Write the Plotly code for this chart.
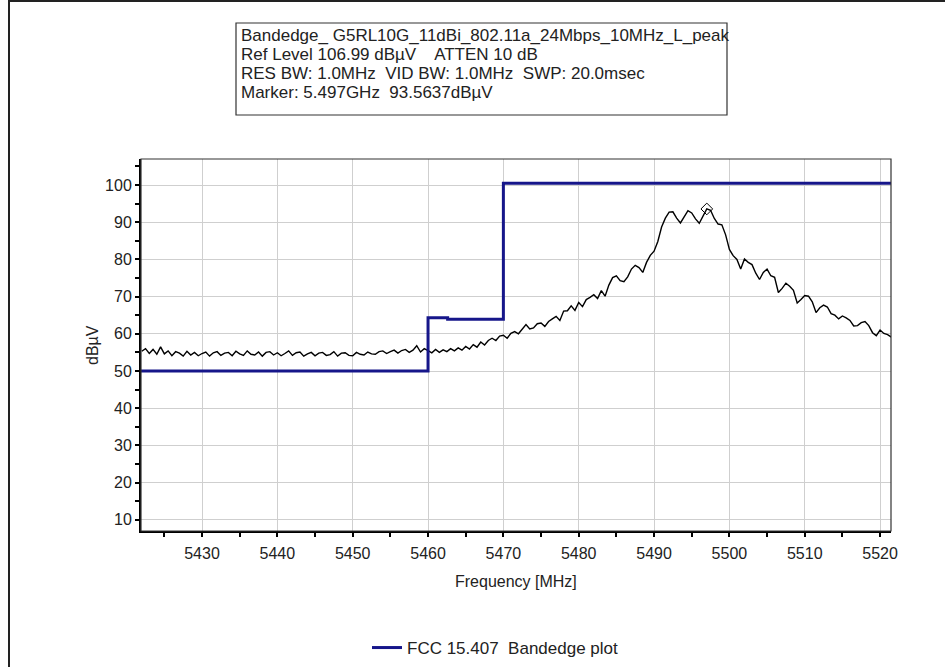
import numpy as np
import plotly.graph_objects as go

# ---- data ----
freq_start = 5422.0
freq_step = 0.5
trace_dbuv = [
    55.3, 56.0, 54.7, 55.8, 54.5, 56.5, 54.6, 55.4, 54.1, 55.2,
    54.8, 54.0, 55.3, 54.3, 55.0, 54.1, 54.7, 55.1, 54.0, 54.9,
    55.2, 54.2, 54.8, 55.0, 54.1, 55.3, 54.6, 54.2, 55.4, 54.5,
    54.3, 55.1, 54.0, 55.0, 55.2, 54.3, 54.9, 54.1, 54.7, 55.4,
    54.2, 54.9, 55.1, 54.0, 54.6, 55.0, 54.1, 54.8, 55.0, 54.2,
    54.4, 55.2, 54.0, 54.8, 54.9, 54.2, 54.1, 55.0, 54.5, 54.3,
    55.1, 54.6, 54.5, 55.2, 55.4, 54.7, 55.2, 55.6, 54.8, 55.5,
    55.8, 55.0, 55.6, 56.8, 55.1, 56.0, 55.5, 54.9, 55.8, 55.0,
    55.7, 55.2, 56.0, 55.4, 56.2, 55.6, 56.6, 55.9, 57.1, 56.4,
    57.8, 57.0, 58.2, 58.8, 58.2, 59.4, 59.6, 58.8, 60.1, 60.6,
    60.0, 61.3, 62.5, 61.3, 61.6, 62.7, 62.9, 62.0, 63.3, 64.0,
    64.7, 63.6, 66.1, 66.2, 67.5, 66.3, 68.4, 67.3, 69.2, 69.8,
    70.5, 69.5, 71.6, 70.1, 73.1, 75.1, 75.6, 74.3, 74.0, 75.3,
    77.4, 78.4, 77.8, 76.5, 79.2, 81.1, 82.2, 84.8, 88.7, 91.1,
    92.7, 92.8, 91.1, 89.8, 91.6, 93.1, 92.5, 90.9, 89.7, 91.7,
    93.56, 93.2, 91.0, 89.5, 89.3, 86.6, 82.7, 81.0, 80.0, 77.4,
    80.1, 79.2, 78.6, 76.3, 74.6, 76.5, 77.4, 75.6, 75.2, 71.1,
    72.2, 73.6, 72.8, 71.7, 68.3, 69.2, 70.3, 70.1, 68.6, 65.7,
    67.0, 67.7, 67.2, 65.4, 65.0, 64.0, 64.8, 64.3, 63.6, 62.1,
    62.2, 63.0, 63.3, 62.2, 60.3, 59.5, 61.0, 60.1, 59.8, 59.1,
]
trace_freq = [freq_start + i * freq_step for i in range(len(trace_dbuv))]

limit_freq = [5421.9, 5460.0, 5460.0, 5462.6, 5462.6, 5470.0, 5470.0, 5521.45]
limit_dbuv = [50.0, 50.0, 64.3, 64.3, 63.9, 63.9, 100.5, 100.5]

marker_freq = [5497.0]
marker_dbuv = [93.5637]

info_lines = [
    "Bandedge_ G5RL10G_11dBi_802.11a_24Mbps_10MHz_L_peak",
    "Ref Level 106.99 dB\u00b5V    ATTEN 10 dB",
    "RES BW: 1.0MHz  VID BW: 1.0MHz  SWP: 20.0msec",
    "Marker: 5.497GHz  93.5637dB\u00b5V",
]
x_range = [5421.9, 5521.45]
y_range = [6.99, 106.99]
x_ticks = [5430, 5440, 5450, 5460, 5470, 5480, 5490, 5500, 5510, 5520]
y_ticks = [10, 20, 30, 40, 50, 60, 70, 80, 90, 100]

FONT = "Liberation Sans, Arial, sans-serif"
W, H = 945, 667
L, R, T, B = 141, 891, 159, 531

def px(x):
    return (x - L) / (R - L)

def py(y):
    return (B - y) / (B - T)

fig = go.Figure()
fig.add_trace(go.Scatter(x=trace_freq, y=trace_dbuv, mode="lines",
                         line=dict(color="black", width=1.4), showlegend=False,
                         hoverinfo="skip"))
fig.add_trace(go.Scatter(x=limit_freq, y=limit_dbuv, mode="lines",
                         line=dict(color="#16168a", width=3),
                         name="FCC 15.407  Bandedge plot"))
fig.add_trace(go.Scatter(x=marker_freq, y=marker_dbuv, mode="markers",
                         marker=dict(symbol="diamond-open", size=9, color="black",
                                     line=dict(width=1)),
                         showlegend=False))

axis_common = dict(showgrid=True, gridcolor="#cfcfcf", gridwidth=1,
                   zeroline=False, showline=True, linecolor="black", linewidth=2,
                   ticks="outside", ticklen=4, tickwidth=1.5, tickcolor="black",
                   tickfont=dict(family=FONT, size=16, color="#222"))

fig.update_layout(
    width=W, height=H,
    margin=dict(l=L, r=W - R, t=T, b=H - B, pad=0, autoexpand=False),
    paper_bgcolor="white", plot_bgcolor="white",
    xaxis=dict(range=x_range, tickvals=x_ticks, **axis_common,
               ticklabelstandoff=3,
               minor=dict(dtick=5, tick0=5420, ticks="outside", ticklen=4,
                          tickwidth=1.5, tickcolor="black", showgrid=False),
               mirror=False),
    yaxis=dict(range=y_range, tickvals=y_ticks, **axis_common,
               minor=dict(dtick=5, tick0=5, ticks="outside", ticklen=4,
                          tickwidth=1.5, tickcolor="black", showgrid=False),
               mirror=False),
    showlegend=True,
    legend=dict(orientation="h", x=px(367), y=py(648), xanchor="left", yanchor="middle",
                font=dict(family=FONT, size=17, color="#222"),
                bgcolor="rgba(0,0,0,0)"),
)

shapes = [
    dict(type="rect", xref="paper", yref="paper", x0=0, x1=1, y0=0, y1=1,
         line=dict(color="#333", width=1.2)),
    dict(type="rect", xref="paper", yref="paper",
         x0=px(236), x1=px(727), y0=py(115), y1=py(23),
         line=dict(color="#333", width=1.2), fillcolor="white"),
    dict(type="line", xref="paper", yref="paper",
         x0=px(9), x1=px(9), y0=py(0), y1=py(H), line=dict(color="#222", width=2)),
    dict(type="line", xref="paper", yref="paper",
         x0=px(9), x1=px(W), y0=py(1), y1=py(1), line=dict(color="#222", width=2)),
]
fig.update_layout(shapes=shapes)

annotations = []
line_y = [35, 54.5, 73.5, 92.5]
for txt, yy in zip(info_lines, line_y):
    annotations.append(dict(text=txt, xref="paper", yref="paper", x=px(239), y=py(yy),
                            xanchor="left", yanchor="middle", showarrow=False,
                            font=dict(family=FONT, size=17, color="#222")))
annotations.append(dict(text="Frequency [MHz]", xref="paper", yref="paper",
                        x=px(516), y=py(581), xanchor="center", yanchor="middle",
                        showarrow=False, font=dict(family=FONT, size=16, color="#222")))
annotations.append(dict(text="dB\u00b5V", xref="paper", yref="paper",
                        x=px(92), y=py(345), xanchor="center", yanchor="middle",
                        textangle=-90, showarrow=False,
                        font=dict(family=FONT, size=16, color="#222")))
fig.update_layout(annotations=annotations)

fig.write_html("out.html", config={"displayModeBar": False},
               post_script="document.body.style.margin='0';document.body.style.padding='0';")
